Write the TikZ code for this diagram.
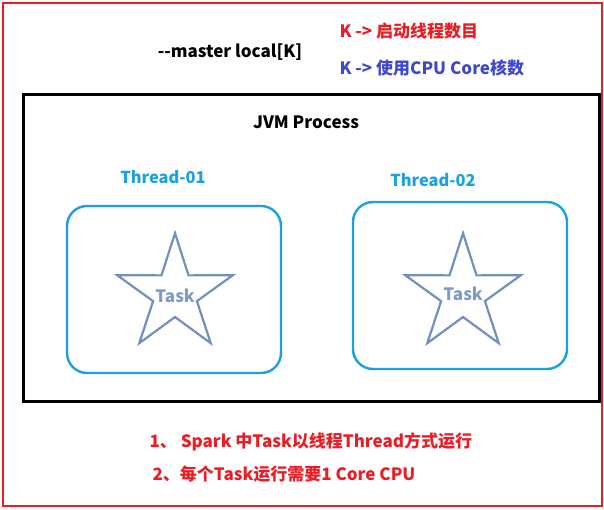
\documentclass[tikz,border=0pt]{standalone}
\usepackage{fontspec}
\setmainfont{Noto Sans CJK SC}
\usetikzlibrary{shapes.geometric}
\definecolor{SPRed}{HTML}{ED1C24}
\definecolor{SPBlue}{HTML}{3F48CC}
\definecolor{SPCyan}{HTML}{1BA1E2}
\definecolor{SPSteel}{HTML}{7090C0}

\begin{document}
\begin{tikzpicture}[x=1pt,y=-1pt,
          threadbox/.style={draw=SPCyan,line width=2.4pt,rounded corners=20pt,
            minimum width=214pt,minimum height=167pt,inner sep=0pt},
          task/.style={draw=SPSteel,line width=2.2pt,star,star points=5,
            star point ratio=2.64,minimum size=121.6pt,inner sep=0pt},
          tasklabel/.style={font=\bfseries\fontsize{17}{19}\selectfont,
            text=SPSteel!90!white},
          threadlabel/.style={font=\bfseries\fontsize{16.4}{18}\selectfont,text=SPCyan},
          note/.style={font=\bfseries\fontsize{17}{19}\selectfont,anchor=west}
        ]
        \useasboundingbox (0,0) rectangle (604,510);
        \node[draw=SPRed,line width=2.2pt,minimum width=599pt,minimum height=503pt,
          inner sep=0pt] (frame) at (302.5,254.5) {};
        \node[font=\bfseries\fontsize{17}{19}\selectfont] (master) at (230,52)
          {-{}-master local[K]};
        \node[note,text=SPRed] (kthread) at (336,31) {K -> 启动线程数目};
        \node[note,text=SPBlue] (kcore) at (336,68) {K -> 使用CPU Core核数};
        \node[draw=black,line width=3pt,minimum width=576pt,minimum height=306pt,
          inner sep=0pt] (jvm) at (311,248) {};
        \node[font=\bfseries\fontsize{17}{19}\selectfont] (jvmlabel) at (306,122)
          {JVM Process};
        \node[threadbox] (box1) at (174,289.5) {};
        \node[threadbox] (box2) at (460,285.5) {};
        \node[threadlabel] (thread1) at (163,177) {Thread-01};
        \node[threadlabel] (thread2) at (433,180) {Thread-02};
        \node[task] (task1) at (175,294) {};
        \node[task] (task2) at (463,294) {};
        \node[tasklabel] (tasktext1) at (175,296) {Task};
        \node[tasklabel] (tasktext2) at (463,294) {Task};
        \node[note,text=SPRed] (rule1) at (146,442)
          {1、 Spark 中Task以线程Thread方式运行};
        \node[note,text=SPRed] (rule2) at (149,474)
          {2、每个Task运行需要1 Core CPU};
      \end{tikzpicture}
\end{document}
